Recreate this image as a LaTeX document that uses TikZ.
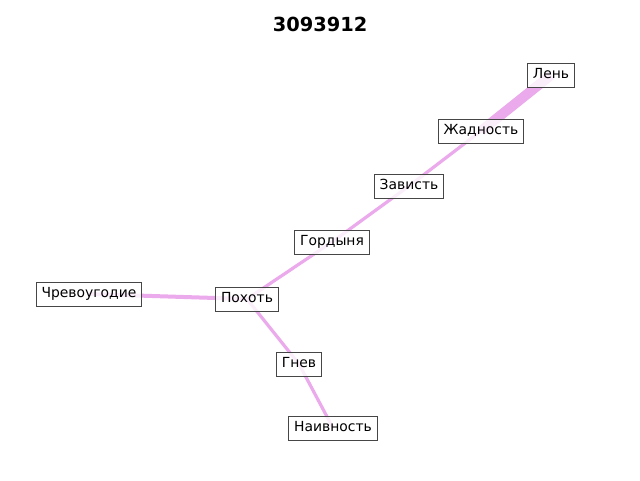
\documentclass[tikz,border=0pt]{standalone}
\usepackage{fontspec}
\setmainfont{DejaVu Sans}
\definecolor{edgec}{RGB}{235,170,235}
\definecolor{boxc}{RGB}{70,70,70}
\tikzset{
  lbl/.style={draw=boxc, line width=1pt, fill=white, fill opacity=0.8, text opacity=1,
    font=\fontsize{13.9}{16}\selectfont, inner xsep=5.5pt, inner ysep=0pt,
    minimum height=24pt, text height=10.5pt, text depth=3pt},
  edg/.style={draw=edgec, line width=3.2pt},
}
\begin{document}
\begin{tikzpicture}[x=1pt,y=-1pt]
\useasboundingbox (0,0) rectangle (640,480);
\node[font=\bfseries\fontsize{19.4}{22}\selectfont] (title) at (320,24) {3093912};
\coordinate (cLen) at (551,75);
\coordinate (cZh) at (481,131);
\coordinate (cZa) at (409,186);
\coordinate (cGo) at (332,242);
\coordinate (cCh) at (89,294);
\coordinate (cPo) at (247,299);
\coordinate (cGn) at (299,364);
\coordinate (cNa) at (333,428);
\draw[edg, line width=10pt] (cLen) -- (cZh);
\draw[edg] (cZh) -- (cZa);
\draw[edg] (cZa) -- (cGo);
\draw[edg] (cGo) -- (cPo);
\draw[edg, line width=4pt] (cCh) -- (cPo);
\draw[edg] (cPo) -- (cGn);
\draw[edg] (cGn) -- (cNa);
\node[lbl] (Len) at (cLen) {Лень};
\node[lbl] (Zh) at (cZh) {Жадность};
\node[lbl] (Za) at (cZa) {Зависть};
\node[lbl] (Go) at (cGo) {Гордыня};
\node[lbl] (Ch) at (cCh) {Чревоугодие};
\node[lbl] (Po) at (cPo) {Похоть};
\node[lbl] (Gn) at (cGn) {Гнев};
\node[lbl] (Na) at (cNa) {Наивность};
\end{tikzpicture}
\end{document}
